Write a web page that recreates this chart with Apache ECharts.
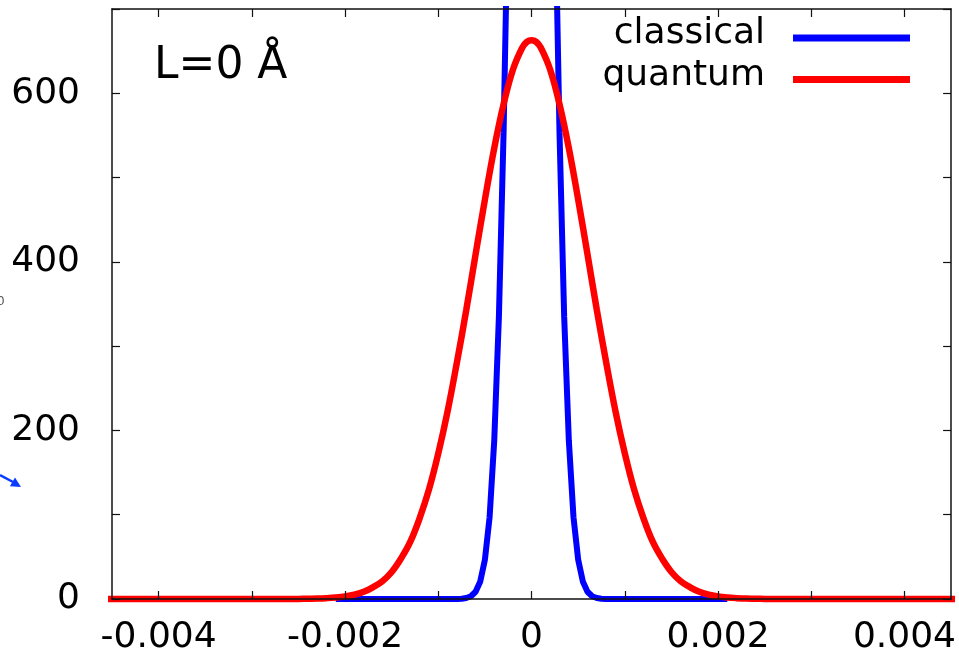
<!DOCTYPE html>
<html>
<head>
<meta charset="utf-8">
<script src="https://cdn.jsdelivr.net/npm/echarts@6/dist/echarts.min.js"></script>
<style>
html,body{margin:0;padding:0;background:#fff;}
#chart{width:959px;height:656px;}
</style>
</head>
<body>
<div id="chart"></div>
<script>
// ---- data ----
const seriesNames = ['classical', 'quantum'];

// quantum (red) distribution
const quantumX = [-0.0047,
  -0.0026,-0.0025,-0.0024,-0.0023,-0.0022,-0.0021,-0.0020,-0.0019,-0.0018,-0.0017,
  -0.0016,-0.0015,-0.0014,-0.0013,-0.0012,-0.0011,-0.0010,-0.0009,-0.0008,-0.0007,
  -0.0006,-0.0005,-0.0004,-0.0003,-0.0002,-0.0001,-0.00005,0,0.00005,
  0.0001,0.0002,0.0003,0.0004,0.0005,0.0006,0.0007,0.0008,0.0009,0.0010,
  0.0011,0.0012,0.0013,0.0014,0.0015,0.0016,0.0017,0.0018,0.0019,0.0020,
  0.0021,0.0022,0.0023,0.0024,0.0025,0.0026,
  0.0047];
const quantumY = [0,
  0,0.1,0.3,0.5,1.0,1.8,3.1,5.2,8.5,14,
  21,32,48,68,96,130,173,223,281,343,
  409,474,535,587,628,654,661,663,661,
  654,628,587,535,474,409,343,281,223,173,
  130,96,68,48,32,21,14,8.5,5.2,3.1,
  1.8,1.0,0.5,0.3,0.1,0,
  0];

// classical (blue) distribution
const classicalX = [-0.0021,-0.0009,-0.0008,-0.00075,-0.0007,-0.00065,-0.0006,-0.00055,
  -0.0005,-0.00045,-0.0004,-0.00035,-0.0003,-0.00025,-0.0002,-0.00015,-0.0001,-0.00005,0,
  0.00005,0.0001,0.00015,0.0002,0.00025,0.0003,0.00035,0.0004,0.00045,0.0005,
  0.00055,0.0006,0.00065,0.0007,0.00075,0.0008,0.0009,0.0021];
const classicalY = [0,0,0.1,0.4,1.2,3.3,8.6,20.8,
  46.8,97,188,335,553,845,1195,1566,1899,2132,2216,
  2132,1899,1566,1195,845,553,335,188,97,46.8,
  20.8,8.6,3.3,1.2,0.4,0.1,0,0];

// axes
const xTickValues = [-0.004,-0.003,-0.002,-0.001,0,0.001,0.002,0.003,0.004];
const xLabelValues = [-0.004,-0.002,0,0.002,0.004];
const xTickLabels = ['-0.004','-0.002','0','0.002','0.004'];
const yLabelValues = [0,200,400,600];
const yTickLabels = ['0','200','400','600'];
const annotation = 'L=0 Å';

function pairs(xs, ys){ return xs.map((x,i)=>[x, ys[i]]); }

const FONT = 'DejaVu Sans';
const AXC = '#111';

const chart = echarts.init(document.getElementById('chart'), null, {renderer:'canvas'});

function xLabelFmt(v){
  for (let i=0;i<xLabelValues.length;i++){ if (Math.abs(v-xLabelValues[i])<1e-9) return xTickLabels[i]; }
  return '';
}
function yLabelFmt(v){
  for (let i=0;i<yLabelValues.length;i++){ if (Math.abs(v-yLabelValues[i])<1e-9) return yTickLabels[i]; }
  return '';
}

const option = {
  animation: false,
  backgroundColor: '#fff',
  grid: {left:112, right:6, top:9, bottom:57, containLabel:false},
  xAxis: [
    {type:'value', position:'bottom', min:-0.0045, max:0.0045, z:5,
     axisLine:{show:true, onZero:false, lineStyle:{color:AXC, width:1.5}},
     axisTick:{show:true, inside:true, length:8, customValues:xTickValues, lineStyle:{color:AXC, width:1.2}},
     axisLabel:{show:true, customValues:xLabelValues, formatter:xLabelFmt, margin:21,
                fontFamily:FONT, fontSize:36, color:'#000'},
     splitLine:{show:false}},
    {type:'value', position:'top', min:-0.0045, max:0.0045, z:5,
     axisLine:{show:true, onZero:false, lineStyle:{color:AXC, width:1.5}},
     axisTick:{show:true, inside:true, length:8, customValues:xTickValues, lineStyle:{color:AXC, width:1.2}},
     axisLabel:{show:false},
     splitLine:{show:false}}
  ],
  yAxis: [
    {type:'value', position:'left', min:0, max:700, interval:100, z:5,
     axisLine:{show:true, onZero:false, lineStyle:{color:AXC, width:1.5}},
     axisTick:{show:true, inside:true, length:8, lineStyle:{color:AXC, width:1.2}},
     axisLabel:{show:true, customValues:yLabelValues, formatter:yLabelFmt, margin:32,
                padding:[0,0,6,0],
                fontFamily:FONT, fontSize:36, color:'#000'},
     splitLine:{show:false}},
    {type:'value', position:'right', min:0, max:700, interval:100, z:5,
     axisLine:{show:true, onZero:false, lineStyle:{color:AXC, width:1.5}},
     axisTick:{show:true, inside:true, length:8, lineStyle:{color:AXC, width:1.2}},
     axisLabel:{show:false},
     splitLine:{show:false}}
  ],
  series: [
    {name:seriesNames[0], type:'line', xAxisIndex:0, yAxisIndex:0,
     data:pairs(classicalX, classicalY), showSymbol:false, symbol:'none',
     clip:true, z:2, lineStyle:{color:'#0000ff', width:6}},
    {name:seriesNames[1], type:'line', xAxisIndex:0, yAxisIndex:0,
     data:pairs(quantumX, quantumY), showSymbol:false, symbol:'none',
     smooth:0.4,
     clip:false, z:3, lineStyle:{color:'#ff0000', width:6.5}}
  ],
  graphic: [
    {type:'text', left:154, top:45, z:10,
     style:{text:annotation, fontFamily:FONT, fontSize:44, fill:'#000'}},
    {type:'text', x:765, y:34, z:10,
     style:{text:seriesNames[0], fontFamily:FONT, fontSize:36, fill:'#000', align:'right', verticalAlign:'middle'}},
    {type:'text', x:765, y:76, z:10,
     style:{text:seriesNames[1], fontFamily:FONT, fontSize:36, fill:'#000', align:'right', verticalAlign:'middle'}},
    {type:'rect', z:10, shape:{x:793, y:34.5, width:117, height:7}, style:{fill:'#0000ff'}},
    {type:'rect', z:10, shape:{x:793, y:76, width:117, height:7}, style:{fill:'#ff0000'}},
    {type:'text', x:-3, y:302, z:10,
     style:{text:'0', fontFamily:FONT, fontSize:12, fill:'#555', verticalAlign:'middle'}},
    {type:'line', z:10, shape:{x1:0, y1:475, x2:13, y2:482}, style:{stroke:'#0a3cff', lineWidth:2.5}},
    {type:'polygon', z:10, shape:{points:[[21,487],[9.9,486.2],[15,477.6]]}, style:{fill:'#0a3cff'}}
  ]
};
chart.setOption(option);
</script>
</body>
</html>
